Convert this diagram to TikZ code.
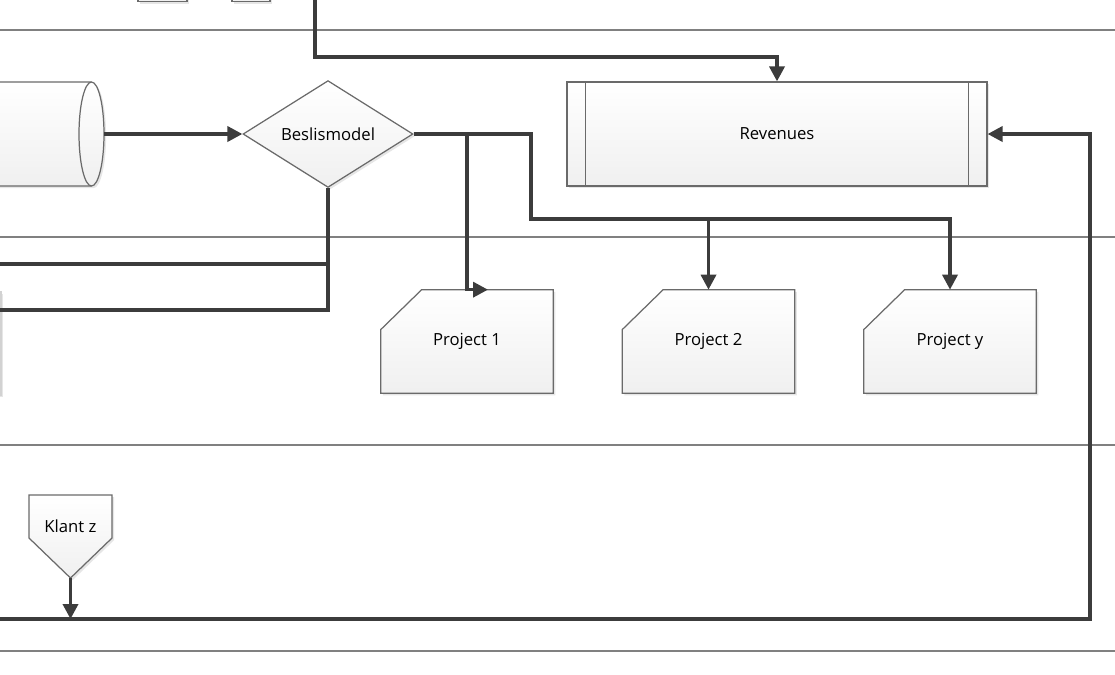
\documentclass[tikz,border=0pt]{standalone}
\usepackage{fontspec}
\setmainfont{Open Sans}
\usetikzlibrary{positioning}
\usetikzlibrary{shapes.geometric}
\usetikzlibrary{arrows.meta}
\usetikzlibrary{shadows}

\definecolor{lijn}{HTML}{3C3C3C}
\definecolor{rand}{HTML}{6A6A6A}
\definecolor{baan}{HTML}{808080}

\tikzset{
  conn/.style={draw=lijn,line width=2pt},
  pijl/.style={conn,-{Triangle[length=8.5pt,width=8.5pt]}},
  vorm/.style={draw=rand,line width=0.7pt,top color=white,bottom color=gray!12,
    drop shadow={opacity=0.2,shadow xshift=1.2pt,shadow yshift=-1.2pt}},
  baanlijn/.style={draw=baan,line width=0.9pt},
  tekst/.style={font=\fontsize{9.5}{11}\selectfont,text=black}
}

\begin{document}
\begin{tikzpicture}[x=0.02cm,y=-0.02cm]
		\useasboundingbox (0,0) rectangle (1115,674);
		\clip (0,0) rectangle (1115,674);
		% swimlanes
		\foreach \Y in {30,237,445,651}
		{\draw[baanlijn] (0,\Y) -- (1115,\Y);}
		% shapes that run off the page
		\draw[vorm] (138,-30) rectangle (187,1.5);
		\draw[vorm] (232,-30) rectangle (270,1.5);
		\draw[vorm,draw=gray!35] (-60,292) rectangle (1,395);
		% data store
		\draw[vorm] (-20,82) -- (91.5,82) arc[start angle=-90,end angle=90,x radius=12.5,y radius=52] -- (-20,186) -- cycle;
		\draw[draw=rand,line width=0.7pt] (91.5,82) arc[start angle=-90,end angle=-270,x radius=12.5,y radius=52];
		\coordinate (cyl) at (104,134);
		% decision
		\node[vorm,diamond,minimum width=3.4cm,minimum height=2.08cm,inner sep=0pt,tekst] (beslis) at (328,134) {Beslismodel};
		% revenues
		\node[vorm,rectangle,minimum width=8.4cm,minimum height=2.08cm,tekst] (rev) at (777,134) {Revenues};
		\draw[draw=rand,line width=0.7pt] ([xshift=0.38cm]rev.north west) -- ([xshift=0.38cm]rev.south west);
		\draw[draw=rand,line width=0.7pt] ([xshift=-0.38cm]rev.north east) -- ([xshift=-0.38cm]rev.south east);
		% projects
		\foreach \naam/\X/\T in {proj1/467/Project 1,proj2/708.5/Project 2,projy/950/Project y}
		{\path node[minimum width=3.44cm,minimum height=2.06cm] (\naam) at (\X,341.5) {};
		\draw[vorm] (\naam.south west) -- (\naam.south east) -- (\naam.north east) -- ([xshift=0.82cm]\naam.north west) -- ([yshift=-0.8cm]\naam.north west) -- cycle;
		\node[tekst] (\naam-t) at (\naam) {\T};}
		% off-page reference
		\draw[vorm] (29,495) -- (112,495) -- (112,538) -- (70.5,578) -- (29,538) -- cycle;
		\node[tekst] (klant) at (70.5,526) {Klant z};
		\coordinate (klantpunt) at (70.5,578);
		% connectors
		\coordinate (bovenin) at (315,-5);
		\coordinate (splits) at (531,219);
		\coordinate (links1) at (-5,264);
		\coordinate (links2) at (-5,310);
		\coordinate (onder) at (-5,619);
		\draw[pijl] (bovenin) -- (315,57) -| (rev.north);
		\draw[pijl] (cyl) -- (beslis.west);
		\draw[pijl] (beslis.east) -| (proj1.north) -- ++(21,0);
		\draw[pijl] (beslis.east) -| (splits) -| (proj2.north);
		\draw[pijl] (splits) -| (projy.north);
		\draw[conn] (beslis.south) |- (links2);
		\draw[conn] (beslis.south |- links1) -- (links1);
		\draw[pijl] (klantpunt) -- (klantpunt |- onder);
		\draw[pijl] (onder) -- (1090,619) |- (rev.east);
\end{tikzpicture}
\end{document}
